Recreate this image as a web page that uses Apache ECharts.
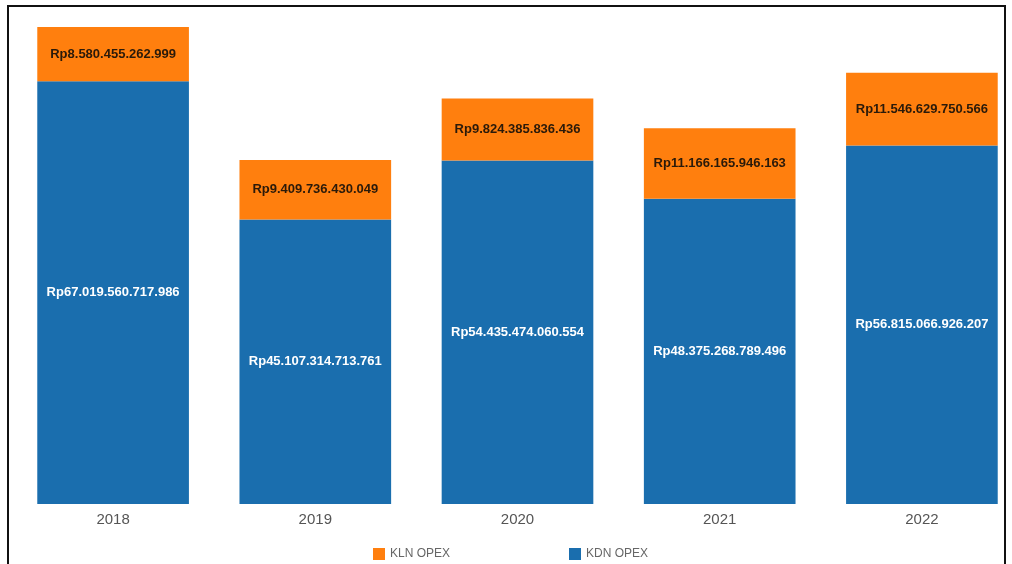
<!DOCTYPE html>
<html>
<head>
<meta charset="utf-8">
<script src="https://cdn.jsdelivr.net/npm/echarts@6/dist/echarts.min.js"></script>
<style>
  html, body { margin: 0; padding: 0; background: #fff; overflow: hidden; width: 1012px; height: 564px; }
  #frame { position: absolute; left: 7px; top: 5px; width: 999px; height: 570px; border: 2px solid #111; box-sizing: border-box; pointer-events: none; }
  #chart { width: 1036px; height: 564px; }
</style>
</head>
<body>
<div id="chart"></div>
<div id="frame"></div>
<script>
const years = ['2018', '2019', '2020', '2021', '2022'];
const kdnOpex = [67019560717986, 45107314713761, 54435474060554, 48375268789496, 56815066926207];
const klnOpex = [8580455262999, 9409736430049, 9824385836436, 11166165946163, 11546629750566];

function rupiah(v) {
  return 'Rp' + String(v).replace(/\B(?=(\d{3})+(?!\d))/g, '.');
}

const chart = echarts.init(document.getElementById('chart'));
chart.setOption({
  animation: false,
  backgroundColor: '#ffffff',
  grid: { left: 12, right: 13, top: 27, bottom: 60 },
  legend: {
    data: ['KLN OPEX', 'KDN OPEX'],
    left: 368, top: 543,
    itemWidth: 12, itemHeight: 12, itemGap: 119,
    icon: 'rect',
    textStyle: { color: '#666', fontSize: 12, fontFamily: 'Liberation Sans, Arial' }
  },
  xAxis: {
    type: 'category',
    data: years,
    axisLine: { show: false },
    axisTick: { show: false },
    axisLabel: { color: '#555', fontSize: 15, margin: 8, fontFamily: 'Liberation Sans, Arial' }
  },
  yAxis: {
    type: 'value',
    min: 0,
    max: 'dataMax',
    show: false,
    splitLine: { show: false }
  },
  series: [
    {
      name: 'KDN OPEX',
      type: 'bar',
      stack: 'opex',
      data: kdnOpex,
      barCategoryGap: '25%',
      itemStyle: { color: '#1a6eae' },
      label: {
        show: true, position: 'inside',
        color: '#ffffff', fontSize: 13, fontWeight: 'bold',
        fontFamily: 'Liberation Sans, Arial',
        formatter: p => rupiah(p.value)
      }
    },
    {
      name: 'KLN OPEX',
      type: 'bar',
      stack: 'opex',
      data: klnOpex,
      barCategoryGap: '25%',
      itemStyle: { color: '#ff7f0e' },
      label: {
        show: true, position: 'inside',
        color: '#2a1a0a', fontSize: 13, fontWeight: 'bold',
        fontFamily: 'Liberation Sans, Arial',
        formatter: p => rupiah(p.value)
      }
    }
  ]
});
</script>
</body>
</html>
